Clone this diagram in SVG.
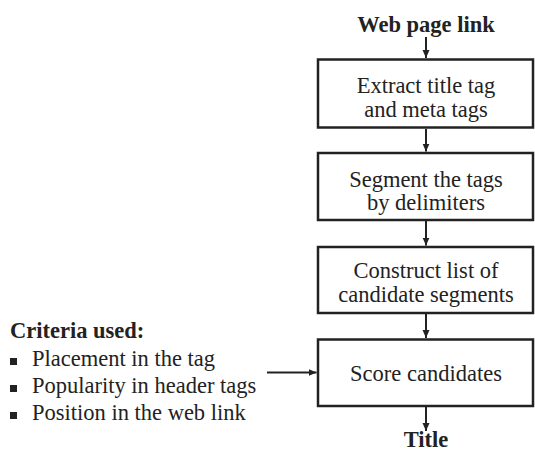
<svg xmlns="http://www.w3.org/2000/svg" width="535" height="452" viewBox="0 0 535 452">
<style>
.box{fill:#fff;stroke:#222;stroke-width:2.5}
.t{font-family:"Liberation Serif","Times New Roman",serif;font-size:22.5px;fill:#222}
.b{font-weight:bold}
.m{text-anchor:middle}
.c{stroke:#222;stroke-width:2;fill:none}
.bul{fill:#222}
</style>
<defs>
<marker id="ah" markerWidth="9" markerHeight="9" refX="8" refY="4.5" orient="auto" markerUnits="userSpaceOnUse">
<path d="M0,1 L8,4.5 L0,8 Z" fill="#222"/>
</marker>
</defs>
<rect width="535" height="452" fill="#fff"/>
<text class="t b m" x="426" y="32">Web page link</text>
<g id="n1"><rect class="box" x="318" y="59.5" width="215" height="68"/>
<text class="t m" x="426" y="93">Extract title tag</text>
<text class="t m" x="426" y="116.5">and meta tags</text></g>
<g id="n2"><rect class="box" x="318" y="153" width="215" height="67"/>
<text class="t m" x="426" y="186.5">Segment the tags</text>
<text class="t m" x="426" y="209.5">by delimiters</text></g>
<g id="n3"><rect class="box" x="318" y="247" width="215" height="66"/>
<text class="t m" x="426" y="277.5">Construct list of</text>
<text class="t m" x="426" y="301.5">candidate segments</text></g>
<g id="n4"><rect class="box" x="318" y="339.5" width="215" height="66.5"/>
<text class="t m" x="426" y="381">Score candidates</text></g>
<g id="criteria">
<text class="t b" x="10" y="338">Criteria used:</text>
<rect class="bul" x="10" y="358" width="7" height="7"/>
<text class="t" x="32" y="366">Placement in the tag</text>
<rect class="bul" x="10" y="385" width="7" height="7"/>
<text class="t" x="32" y="393">Popularity in header tags</text>
<rect class="bul" x="10" y="412" width="7" height="7"/>
<text class="t" x="32" y="420">Position in the web link</text>
</g>
<text class="t b m" x="426" y="447">Title</text>
<g id="connectors">
<line class="c" x1="426" y1="37" x2="426" y2="58" marker-end="url(#ah)"/>
<line class="c" x1="426" y1="129" x2="426" y2="151.5" marker-end="url(#ah)"/>
<line class="c" x1="426" y1="221" x2="426" y2="245.5" marker-end="url(#ah)"/>
<line class="c" x1="426" y1="314" x2="426" y2="338" marker-end="url(#ah)"/>
<line class="c" x1="267" y1="372.5" x2="316.5" y2="372.5" marker-end="url(#ah)"/>
<line class="c" x1="426" y1="407" x2="426" y2="431" marker-end="url(#ah)"/>
</g>
</svg>
